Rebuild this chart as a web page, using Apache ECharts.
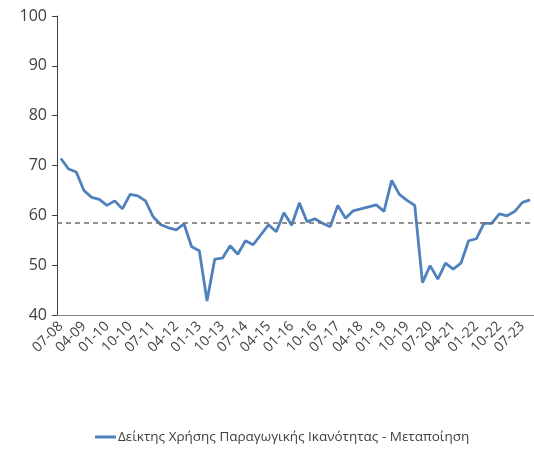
<!DOCTYPE html>
<html>
<head>
<meta charset="utf-8">
<script src="https://cdn.jsdelivr.net/npm/echarts@6/dist/echarts.min.js"></script>
<style>
  html, body { margin: 0; padding: 0; background: #fff; }
  #chart { width: 534px; height: 450px; }
</style>
</head>
<body>
<div id="chart"></div>
<script>
// quarters, month-year
var quarters = [
    '07-08', '10-08', '01-09', '04-09', '07-09', '10-09', '01-10', '04-10',
    '07-10', '10-10', '01-11', '04-11', '07-11', '10-11', '01-12', '04-12',
    '07-12', '10-12', '01-13', '04-13', '07-13', '10-13', '01-14', '04-14',
    '07-14', '10-14', '01-15', '04-15', '07-15', '10-15', '01-16', '04-16',
    '07-16', '10-16', '01-17', '04-17', '07-17', '10-17', '01-18', '04-18',
    '07-18', '10-18', '01-19', '04-19', '07-19', '10-19', '01-20', '04-20',
    '07-20', '10-20', '01-21', '04-21', '07-21', '10-21', '01-22', '04-22',
    '07-22', '10-22', '01-23', '04-23', '07-23', '10-23'
];

var capacityUse = [
    71.4, 69.3, 68.7, 65.0, 63.6, 63.2, 62.0, 62.9,
    61.3, 64.2, 63.9, 62.9, 59.7, 58.1, 57.5, 57.1,
    58.3, 53.7, 52.9, 42.8, 51.2, 51.4, 53.9, 52.2,
    54.9, 54.1, 56.1, 58.1, 56.7, 60.5, 58.0, 62.5,
    58.7, 59.3, 58.4, 57.7, 62.0, 59.4, 60.9, 61.3,
    61.7, 62.1, 60.8, 67.0, 64.2, 63.0, 62.0, 46.5,
    49.9, 47.2, 50.4, 49.2, 50.4, 54.9, 55.3, 58.4,
    58.4, 60.3, 59.9, 60.8, 62.6, 63.1
];

var longTermAvg = 58.6;

var seriesName = 'Δείκτης Χρήσης Παραγωγικής Ικανότητας - Μεταποίηση';

var myChart = echarts.init(document.getElementById('chart'));
var option;

option = {
    animation: false,
    textStyle: { fontFamily: 'Open Sans' },
    grid: {
        left: 57,
        right: -5,
        top: 16,
        bottom: 135
    },
    legend: {
        bottom: 1,
        left: 90,
        icon: 'rect',
        itemWidth: 21,
        itemHeight: 3,
        itemGap: 4,
        textStyle: { color: '#404040', fontSize: 13.5, fontFamily: 'Open Sans', padding: [0, 0, 0, -3] },
        data: [seriesName]
    },
    xAxis: {
        type: 'category',
        data: quarters,
        boundaryGap: true,
        axisLine: { lineStyle: { color: '#7f7f7f', width: 1 } },
        axisTick: { interval: 0, length: 5, lineStyle: { color: '#7f7f7f' } },
        axisLabel: {
            interval: 2,
            rotate: 45,
            margin: 9,
            color: '#404040',
            fontSize: 14
        },
        splitLine: { show: false }
    },
    yAxis: {
        type: 'value',
        min: 40,
        max: 100,
        interval: 10,
        axisLine: { show: true, lineStyle: { color: '#404040', width: 1 } },
        axisTick: { show: true, length: 5, lineStyle: { color: '#404040' } },
        axisLabel: { color: '#404040', fontSize: 16, margin: 10 },
        splitLine: { show: false }
    },
    series: [
        {
            name: seriesName,
            type: 'line',
            data: capacityUse,
            symbol: 'none',
            lineStyle: { color: '#4f81bd', width: 2.8 },
            itemStyle: { color: '#4f81bd' },
            markLine: {
                silent: true,
                symbol: 'none',
                label: { show: false },
                lineStyle: { color: '#6e6e6e', type: [5, 4], width: 1.5 },
                data: [{ yAxis: longTermAvg }]
            }
        }
    ]
};

option && myChart.setOption(option);
</script>
</body>
</html>
